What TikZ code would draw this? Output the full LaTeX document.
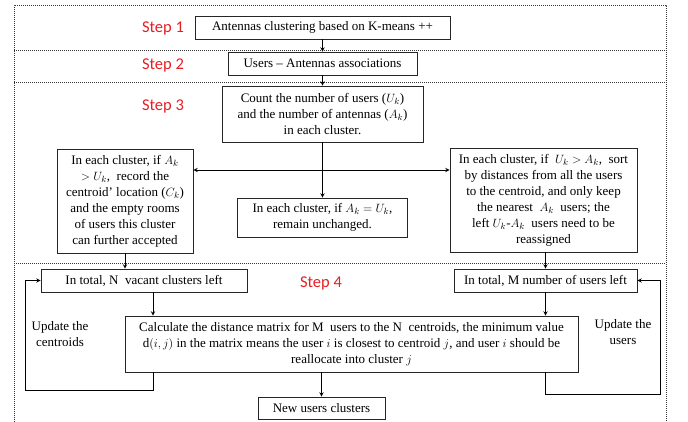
\documentclass[tikz,border=0pt]{standalone}
\usepackage{fontspec}
\setmainfont{Liberation Serif}
\newfontfamily\stepfont{Carlito}
\usetikzlibrary{arrows,
  positioning
}
\definecolor{stepred}{RGB}{230,30,35}
\tikzstyle{box} = [draw=black!85, line width=0.9, inner sep=0pt, align=center,
  font=\fontsize{13}{16}\selectfont]
\tikzstyle{steplabel} = [text=stepred, font=\stepfont\fontsize{16.5}{20}\selectfont]
\tikzstyle{note} = [align=center, font=\fontsize{13}{16}\selectfont]
\tikzstyle{frame} = [draw=black!80, line width=1, densely dotted]
\tikzstyle{flow} = [->, line width=0.9, >=stealth]

\begin{document}
\begin{tikzpicture}[x=1pt, y=-1pt]
  \useasboundingbox (0,0) rectangle (688,421);

  % dotted frame of the steps
  \draw[frame] (14,440) -- (14,5) -- (666,5) -- (666,440);
  \foreach \y in {50,82,263} {
    \draw[frame] (14,\y) -- (666,\y);
  }

  % Step 1
  \node[steplabel] (s1) at (163,28) {Step 1};
  \node[box, minimum width=255pt, minimum height=23pt] (kmeans) at (322.5,27.5)
    {Antennas clustering based on K-means ++};

  % Step 2
  \node[steplabel] (s2) at (163,65) {Step 2};
  \node[box, minimum width=189pt, minimum height=23pt] (assoc) at (322.5,63.5)
    {Users -- Antennas associations};
  \draw[flow] (kmeans) -- (assoc);

  % Step 3
  \node[steplabel] (s3) at (163,106) {Step 3};
  \node[box, minimum width=201pt, minimum height=56pt] (count) at (322.5,114)
    {Count the number of users ($U_k$)\\ and the number of antennas ($A_k$)\\ in each cluster.};
  \draw[flow] (assoc) -- (count);

  \node[box, minimum width=136pt, minimum height=104pt] (more) at (125,201)
    {In each cluster, if $A_k$\\ $> U_k$, \ record the\\ centroid' location ($C_k$)\\
     and the empty rooms\\ of users this cluster\\ can further accepted};
  \node[box, minimum width=170pt, minimum height=39pt] (equal) at (322.5,217.5)
    {In each cluster, if $A_k = U_k$,\\ remain unchanged.};
  \node[box, minimum width=187pt, minimum height=104pt] (less) at (543.5,200)
    {In each cluster, if \ $U_k > A_k$, \ sort\\ by distances from all the users\\
     to the centroid, and only keep\\ the nearest \ $A_k$ \ users; the\\
     left $U_k$-$A_k$ \ users need to be\\ reassigned};

  \coordinate (split) at (322.5,170);
  \draw[flow] (count) -- (equal);
  \draw[flow] (split) -- (more.east |- split);
  \draw[flow] (split) -- (less.west |- split);

  % Step 4
  \node[steplabel] (s4) at (321,283) {Step 4};
  \node[box, minimum width=206pt, minimum height=23pt] (vacant) at (144,280.5)
    {In total, N\ \ vacant clusters left};
  \node[box, minimum width=183pt, minimum height=23pt] (remain) at (545.5,280.5)
    {In total, M number of users left};
  \node[box, minimum width=453pt, minimum height=56pt] (dist) at (351.5,344)
    {Calculate the distance matrix for M\ \ users to the N\ \ centroids, the minimum value\\
     d$(i,j)$ in the matrix means the user $i$ is closest to centroid $j$, and user $i$ should be\\
     reallocate into cluster $j$};
  \node[box, minimum width=127pt, minimum height=22pt] (newclus) at (321.5,408)
    {New users clusters};

  \draw[flow] (more) -- (more |- vacant.north);
  \draw[flow] (remain.north |- less.south) -- (remain);

  \coordinate (lvac) at ([xshift=9pt]vacant.south);
  \draw[flow] (lvac) -- (lvac |- dist.north);
  \draw[flow] (remain) -- (remain |- dist.north);
  \draw[flow] (newclus |- dist.south) -- (newclus);

  % update loops
  \coordinate (lturn) at (25,390);
  \coordinate (rturn) at (660,394);
  \draw[flow] (lvac |- dist.south) |- (lturn) |- (vacant.west);
  \draw[flow] (remain |- dist.south) |- (rturn) |- (remain.east);
  \node[note] (updc) at (60,334) {Update the\\ centroids};
  \node[note] (updu) at (623,332) {Update the\\ users};
\end{tikzpicture}
\end{document}
